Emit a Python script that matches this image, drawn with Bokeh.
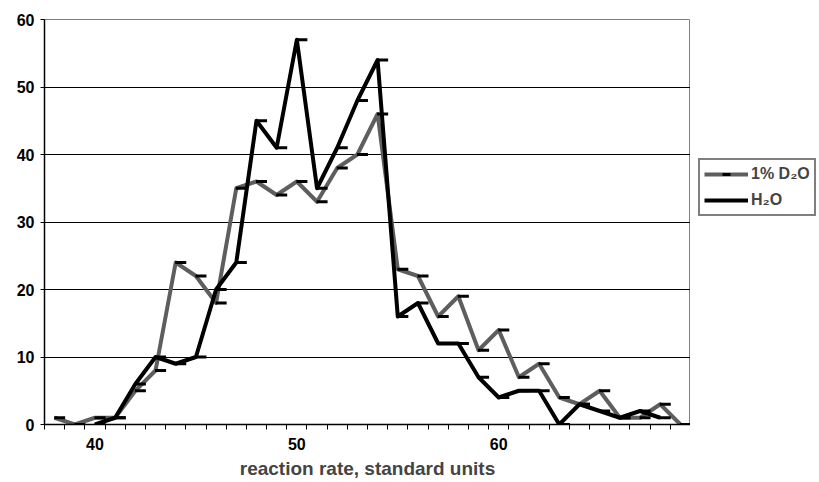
import math

from bokeh.plotting import figure
from bokeh.layouts import row
from bokeh.models import (ColumnDataSource, FixedTicker, Legend, LegendItem,
                          Range1d)
from bokeh.transform import dodge
from bokeh.embed import file_html
from bokeh.resources import INLINE

# Histogram of reaction rates: number of samples per rate class
rate = list(range(38, 70))
d2o = [1, 0, 1, 1, 5, 8, 24, 22, 18, 35,
       36, 34, 36, 33, 38, 40, 46, 23, 22, 16,
       19, 11, 14, 7, 9, 4, 3, 5, 1, 1,
       3, 0]
nan = math.nan
h2o = [nan, nan, 0, 1, 6, 10, 9, 10, 20, 24,
       45, 41, 57, 35, 41, 48, 54, 16, 18, 12,
       12, 7, 4, 5, 5, 0, 3, 2, 1, 2,
       1, nan]

series_cols = ["d2o", "h2o"]
series_names = ["1% D₂O", "H₂O"]
series_colors = ["#5e5e5e", "black"]
x_labels = [40, 50, 60]
y_ticks = [0, 10, 20, 30, 40, 50, 60]

FONT = "Liberation Sans"

src = ColumnDataSource(dict(rate=rate, d2o=d2o, h2o=h2o))

p = figure(width=690, height=482, output_backend="svg", toolbar_location=None,
           x_range=Range1d(rate[0] - 0.5, rate[-1] + 0.5),
           y_range=Range1d(0, 60),
           min_border_left=44, min_border_right=0,
           min_border_top=19, min_border_bottom=58)
p.background_fill_color = "white"
p.border_fill_color = "white"
p.outline_line_color = "#808080"
p.outline_line_width = 1

# x axis: labels at the class centres, tick marks on the class boundaries
p.xaxis.ticker = FixedTicker(ticks=x_labels,
                             minor_ticks=[r - 0.5 for r in rate] + [rate[-1] + 0.5])
p.xaxis.major_tick_out = 0
p.xaxis.major_tick_in = 0
p.xaxis.minor_tick_out = 5
p.xaxis.minor_tick_in = 0
p.xaxis.minor_tick_line_color = "black"
p.xaxis.minor_tick_line_width = 1
p.xaxis.major_label_standoff = 8
p.xaxis.axis_label = "reaction rate, standard units"
p.xaxis.axis_label_standoff = 5
p.xaxis.axis_label_text_font = FONT
p.xaxis.axis_label_text_font_style = "bold"
p.xaxis.axis_label_text_font_size = "19px"

p.yaxis.ticker = FixedTicker(ticks=y_ticks, minor_ticks=[])
p.yaxis.major_tick_out = 4
p.yaxis.major_tick_in = 0
p.yaxis.major_label_standoff = 6

for ax in (p.xaxis[0], p.yaxis[0]):
    ax.axis_line_color = "black"
    ax.axis_line_width = 1.5
    ax.major_tick_line_color = "black"
    ax.major_tick_line_width = 1
    ax.major_label_text_font = FONT
    ax.major_label_text_font_style = "bold"
    ax.major_label_text_font_size = "16px"
    ax.major_label_text_color = "black"

p.xgrid.visible = False
p.ygrid.ticker = FixedTicker(ticks=y_ticks)
p.ygrid.grid_line_color = "black"
p.ygrid.grid_line_width = 1


def add_series(fig, col, color):
    """Thick polyline with a short dash marker at every rate class."""
    ln = fig.line("rate", col, source=src, line_color=color,
                  line_width=4, line_join="round")
    mk = fig.scatter(dodge("rate", 0.25, range=fig.x_range), col, source=src,
                     marker="dash", size=11, line_color="black", line_width=3)
    return ln, mk


for col, color in zip(series_cols, series_colors):
    add_series(p, col, color)

# legend panel to the right of the plot frame; its own copies of the series
# fall outside its (unit) ranges, so only the legend swatches show
lg = figure(width=129, height=482, output_backend="svg", toolbar_location=None,
            x_axis_type=None, y_axis_type=None,
            x_range=Range1d(0, 1), y_range=Range1d(0, 1),
            min_border=0)
lg.outline_line_color = None
lg.grid.visible = False
lg.background_fill_color = "white"
lg.border_fill_color = "white"

items = []
for col, name, color in zip(series_cols, series_names, series_colors):
    ln, mk = add_series(lg, col, color)
    items.append(LegendItem(label=name, renderers=[ln, mk]))

legend = Legend(items=items, location=(8, 208))
legend.border_line_color = "black"
legend.border_line_width = 2
legend.background_fill_color = "white"
legend.background_fill_alpha = 1
legend.padding = 4
legend.spacing = 6
legend.margin = 0
legend.glyph_width = 44
legend.glyph_height = 20
legend.label_height = 20
legend.label_standoff = 3
legend.label_text_font = FONT
legend.label_text_font_size = "16px"
legend.label_text_font_style = "bold"
lg.add_layout(legend)

layout = row(p, lg, spacing=0)
open("out.html", "w").write(file_html(layout, INLINE))
